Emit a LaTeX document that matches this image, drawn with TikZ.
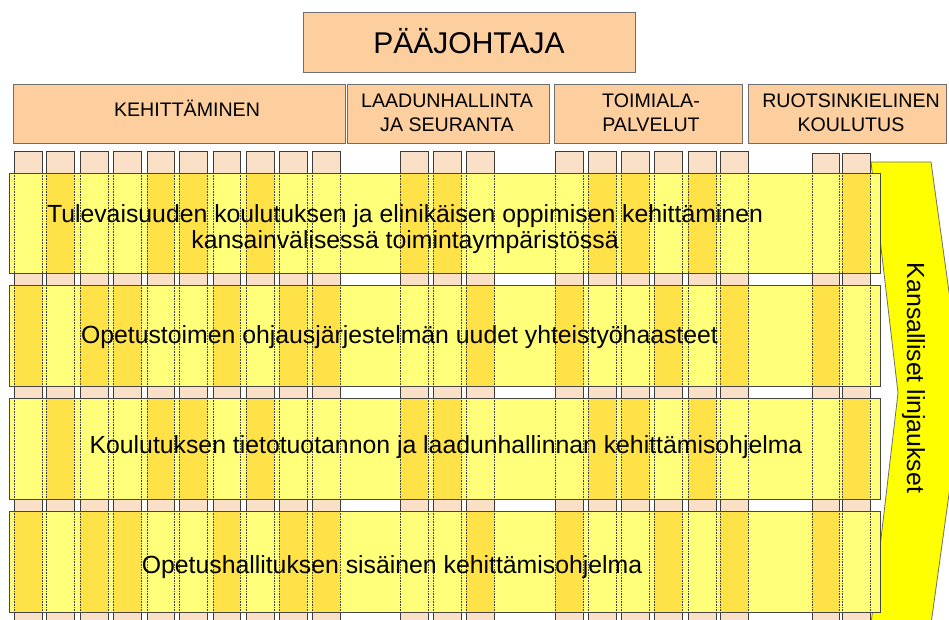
\documentclass[tikz,border=0pt]{standalone}
\usepackage{fontspec}
\setmainfont{Liberation Sans}
\definecolor{peach}{RGB}{253,206,158}
\definecolor{colpeach}{RGB}{251,224,200}
\definecolor{bandlight}{RGB}{255,255,122}
\definecolor{banddark}{RGB}{255,226,72}
\definecolor{arrowyel}{RGB}{255,255,0}
\definecolor{boxline}{RGB}{110,110,110}
\definecolor{bandline}{RGB}{70,70,70}
\definecolor{colline}{RGB}{60,60,60}
\begin{document}
\begin{tikzpicture}[x=1pt,y=-1pt,
  topbox/.style={draw=boxline, fill=peach, line width=1pt, inner sep=0pt},
  colbox/.style={draw=colline, fill=colpeach, line width=0.8pt},
  bandbox/.style={draw=bandline, line width=0.8pt},
  coledge/.style={draw=black!75, line width=0.6pt, densely dotted},
  arrowshape/.style={draw=boxline, fill=arrowyel, line width=0.8pt},
  lbl/.style={font=\fontsize{19.6}{24}\selectfont, inner sep=0pt, align=center},
  bandtxt/.style={font=\fontsize{24.8}{26.6}\selectfont, inner sep=0pt, align=center},
]
\useasboundingbox (0,0) rectangle (949,619);
\clip (0,0) rectangle (949,619);

% right-hand chevron
\draw[arrowshape] (871,162) -- (931,162) -- (963,393) -- (931,624) -- (871,624) -- (898,393) -- cycle;

% top boxes
\node[topbox, minimum width=332pt, minimum height=60pt] (chief) at (469,42) {};
\node[topbox, minimum width=332pt, minimum height=59pt] (kehbox) at (179,113.5) {};
\node[topbox, minimum width=202pt, minimum height=59pt] (laabox) at (448,113.5) {};
\node[topbox, minimum width=188pt, minimum height=59pt] (toibox) at (648,113.5) {};
\node[topbox, minimum width=198pt, minimum height=59pt] (ruobox) at (847,113.5) {};

% columns
\def\collist{14/42/151/0, 46/74/151/1, 80/108/151/0, 113/141/151/0, 147/174/151/1, 179/207/151/1, 213/240/151/0, 246/274/151/1, 279/307/151/0, 312/340/151/0, 400/428/151/1, 433/461/151/1, 466/494/151/0, 555/583/151/0, 588/616/151/1, 621/649/151/1, 654/682/151/0, 688/716/151/1, 720/748/151/0, 812/839/153/0, 842/870/153/1}
\foreach \xa/\xb/\ya/\fl in \collist {
  \draw[colbox] (\xa,\ya) rectangle (\xb,630);
}

% bands
\foreach \bt/\bb/\pat in {173/273/1, 285/386/0, 398/499/1, 511/612/0} {
  \fill[bandlight] (9,\bt) rectangle (880,\bb);
  \foreach \xa/\xb/\ya/\fl in \collist {
    \ifnum\fl=\pat\relax
      \fill[banddark] (\xa,\bt) rectangle (\xb,\bb);
    \fi
    \draw[coledge] (\xa,\bt) -- (\xa,\bb) (\xb,\bt) -- (\xb,\bb);
  }
  \draw[bandbox] (9,\bt) rectangle (880,\bb);
}

% texts
\node[font=\fontsize{30}{36}\selectfont, inner sep=0pt, anchor=base] (chiefT) at (469,53) {PÄÄJOHTAJA};
\node[lbl, anchor=base] (kehT) at (187,116) {KEHITTÄMINEN};
\node[lbl] (laaT) at (447,113) {LAADUNHALLINTA\\JA SEURANTA};
\node[lbl] (toiT) at (651,113) {TOIMIALA-\\PALVELUT};
\node[lbl] (ruoT) at (851,113) {RUOTSINKIELINEN\\KOULUTUS};

\node[bandtxt] (b1T) at (405,229) {Tulevaisuuden koulutuksen ja elinikäisen oppimisen kehittäminen\\kansainvälisessä toimintaympäristössä};
\node[bandtxt, anchor=base] (b2T) at (399.5,343) {Opetustoimen ohjausjärjestelmän uudet yhteistyöhaasteet};
\node[bandtxt, anchor=base] (b3T) at (446,453) {Koulutuksen tietotuotannon ja laadunhallinnan kehittämisohjelma};
\node[bandtxt, anchor=base] (b4T) at (392,573) {Opetushallituksen sisäinen kehittämisohjelma};

\node[bandtxt, rotate=-90] (arrT) at (913.5,378) {Kansalliset linjaukset};
\end{tikzpicture}
\end{document}
